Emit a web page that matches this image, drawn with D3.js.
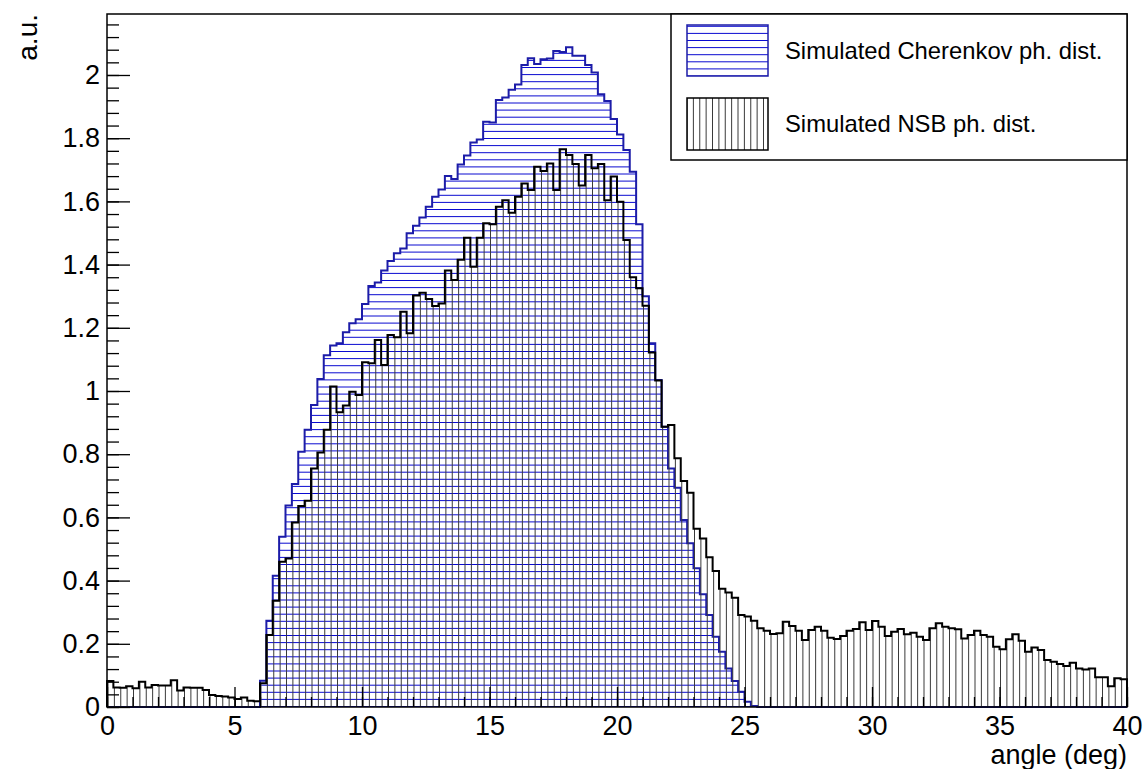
<!DOCTYPE html>
<html><head><meta charset="utf-8">
<script src="https://cdn.jsdelivr.net/npm/d3@7"></script>
<style>
body{margin:0;background:#fff}
svg{display:block}
text{font-family:"Liberation Sans",Arial,Helvetica,sans-serif;fill:#000}
</style>
</head><body>
<svg id="c" width="1146" height="769"></svg>
<script>
// ---- data ----
const xMin = 0, xMax = 40, binWidth = 0.25;
const yMax = 2.193;
const cherenkov = [
 0,0,0,0,0,0,0,0,0,0,
 0,0,0,0,0,0,0,0,0,0,
 0,0,0,0,0.083,0.273,0.415,0.539,0.638,0.706,
 0.808,0.877,0.956,1.038,1.113,1.144,1.151,1.186,1.214,1.227,
 1.275,1.332,1.343,1.381,1.411,1.436,1.451,1.499,1.523,1.549,
 1.583,1.615,1.638,1.680,1.671,1.717,1.745,1.786,1.796,1.852,
 1.850,1.921,1.929,1.953,1.970,2.032,2.053,2.035,2.050,2.052,
 2.076,2.073,2.088,2.061,2.061,2.032,2.008,1.939,1.918,1.861,
 1.812,1.763,1.694,1.528,1.300,1.151,1.035,0.887,0.755,0.694,
 0.592,0.518,0.439,0.357,0.291,0.222,0.175,0.122,0.082,0.048,
 0.017,0.003,0,0,0,0,0,0,0,0,
 0,0,0,0,0,0,0,0,0,0,
 0,0,0,0,0,0,0,0,0,0,
 0,0,0,0,0,0,0,0,0,0,
 0,0,0,0,0,0,0,0,0,0,
 0,0,0,0,0,0,0,0,0,0
];
const nsb = [
 0.082,0.062,0.061,0.066,0.059,0.080,0.062,0.070,0.068,0.068,
 0.085,0.052,0.062,0.061,0.061,0.054,0.038,0.035,0.033,0.030,
 0.025,0.030,0.020,0.018,0.075,0.228,0.336,0.460,0.470,0.584,
 0.636,0.653,0.755,0.805,0.877,1.014,0.933,0.954,0.998,0.987,
 1.091,1.088,1.161,1.082,1.177,1.170,1.251,1.183,1.302,1.311,
 1.291,1.269,1.277,1.381,1.351,1.415,1.485,1.393,1.485,1.531,
 1.528,1.583,1.604,1.564,1.615,1.657,1.636,1.710,1.696,1.720,
 1.636,1.765,1.747,1.718,1.650,1.747,1.705,1.718,1.604,1.679,
 1.599,1.478,1.360,1.325,1.270,1.122,1.033,0.887,0.892,0.787,
 0.715,0.678,0.564,0.533,0.474,0.430,0.374,0.362,0.346,0.291,
 0.286,0.273,0.249,0.241,0.231,0.233,0.270,0.256,0.241,0.212,
 0.244,0.254,0.241,0.219,0.215,0.225,0.241,0.247,0.268,0.244,
 0.272,0.254,0.225,0.238,0.247,0.230,0.235,0.222,0.212,0.249,
 0.265,0.254,0.249,0.246,0.217,0.228,0.241,0.228,0.222,0.191,
 0.183,0.214,0.230,0.210,0.175,0.188,0.180,0.149,0.143,0.136,
 0.130,0.140,0.122,0.119,0.122,0.094,0.094,0.066,0.091,0.088
];
const xMajorTicks = [0,5,10,15,20,25,30,35,40];
const xTickLabels = ["0","5","10","15","20","25","30","35","40"];
const yMajorTicks = [0,0.2,0.4,0.6,0.8,1,1.2,1.4,1.6,1.8,2];
const yTickLabels = ["0","0.2","0.4","0.6","0.8","1","1.2","1.4","1.6","1.8","2"];
const xTitle = "angle (deg)";
const yTitle = "a.u.";
const seriesNames = ["Simulated Cherenkov ph. dist.","Simulated NSB ph. dist."];

// ---- layout ----
const L = 107, R = 1127, T = 14, B = 707;
const svg = d3.select("#c");
const x = d3.scaleLinear([xMin, xMax], [L, R]);
const y = d3.scaleLinear([0, yMax], [B, T]);
const blueLine = "#1c1ca8", blueHatch = "#0a0ad0";

function stepPath(vals){
  let p = `M${x(xMin)},${y(0)}`;
  vals.forEach((v,i)=>{
    const lo = xMin + i*binWidth, hi = lo + binWidth;
    p += `L${x(lo)},${y(v)}L${x(hi)},${y(v)}`;
  });
  p += `L${x(xMax)},${y(0)}`;
  return p;
}

const defs = svg.append("defs");
defs.append("clipPath").attr("id","clipC").append("path").attr("d", stepPath(cherenkov)+"Z");
defs.append("clipPath").attr("id","clipN").append("path").attr("d", stepPath(nsb)+"Z");
defs.append("clipPath").attr("id","clipL1").append("rect").attr("x",687).attr("y",25).attr("width",81).attr("height",51);
defs.append("clipPath").attr("id","clipL2").append("rect").attr("x",687).attr("y",98).attr("width",81).attr("height",52);

const hSpacing = 7.1, vSpacing = 6.375;
function hHatch(g, y0, y1, x0, x1){
  for(let yy = y1; yy >= y0; yy -= hSpacing)
    g.append("line").attr("x1",x0).attr("x2",x1).attr("y1",yy).attr("y2",yy)
     .attr("stroke",blueHatch).attr("stroke-width",1);
}
function vHatch(g, x0, x1, y0, y1){
  for(let xx = x0; xx <= x1; xx += vSpacing)
    g.append("line").attr("x1",xx).attr("x2",xx).attr("y1",y0).attr("y2",y1)
     .attr("stroke","#3a3a3a").attr("stroke-width",1);
}

// Cherenkov
const gC = svg.append("g").attr("clip-path","url(#clipC)");
hHatch(gC, T, B - 0.5, L, R);
svg.append("path").attr("d", stepPath(cherenkov)).attr("fill","none")
  .attr("stroke",blueLine).attr("stroke-width",2);

// NSB
const gN = svg.append("g").attr("clip-path","url(#clipN)");
vHatch(gN, L + 1, R, T, B);
svg.append("path").attr("d", stepPath(nsb)).attr("fill","none")
  .attr("stroke","#000").attr("stroke-width",2);

// axes
const xAxisMinor = d3.axisBottom(x).tickValues(d3.range(0,41,1)).tickSize(-10).tickSizeOuter(0).tickFormat("");
svg.append("g").attr("transform",`translate(0,${B})`).call(xAxisMinor);
const xAxis = d3.axisBottom(x).tickValues(xMajorTicks).tickSize(-20).tickSizeOuter(0)
  .tickPadding(9).tickFormat((d,i)=>xTickLabels[i]);
const gx = svg.append("g").attr("transform",`translate(0,${B})`).call(xAxis);
gx.selectAll("text").style("font-size","27px");

const yMinorVals = d3.range(0, 55).map(i=>i*0.04).filter(v=>v<=yMax);
const yAxisMinor = d3.axisLeft(y).tickValues(yMinorVals).tickSize(-12).tickSizeOuter(0).tickFormat("");
svg.append("g").attr("transform",`translate(${L},0)`).call(yAxisMinor);
const yAxis = d3.axisLeft(y).tickValues(yMajorTicks).tickSize(-23).tickSizeOuter(0)
  .tickPadding(7).tickFormat((d,i)=>yTickLabels[i]);
const gy = svg.append("g").attr("transform",`translate(${L},0)`).call(yAxis);
gy.selectAll("text").style("font-size","27px");
svg.selectAll(".tick line").attr("stroke","#000").attr("stroke-width",1.3);
svg.selectAll(".domain").remove();

// frame
svg.append("rect").attr("x",L).attr("y",T).attr("width",R-L).attr("height",B-T)
  .attr("fill","none").attr("stroke","#000").attr("stroke-width",1.5);

// titles
svg.append("text").attr("x",R).attr("y",764).attr("text-anchor","end")
  .style("font-size","27px").text(xTitle);
svg.append("text").attr("transform",`translate(37,${T}) rotate(-90)`).attr("text-anchor","end")
  .style("font-size","28px").text(yTitle);

// legend
svg.append("rect").attr("x",671).attr("y",T).attr("width",R-671).attr("height",146)
  .attr("fill","#fff").attr("stroke","#000").attr("stroke-width",1.5);
const l1 = svg.append("g").attr("clip-path","url(#clipL1)");
hHatch(l1, 25, 76, 687, 768);
svg.append("rect").attr("x",687).attr("y",25).attr("width",81).attr("height",51)
  .attr("fill","none").attr("stroke",blueLine).attr("stroke-width",1.5);
const l2 = svg.append("g").attr("clip-path","url(#clipL2)");
vHatch(l2, 687, 768, 98, 150);
svg.append("rect").attr("x",687).attr("y",98).attr("width",81).attr("height",52)
  .attr("fill","none").attr("stroke","#000").attr("stroke-width",1.5);
svg.append("text").attr("x",785).attr("y",59).style("font-size","23.8px").text(seriesNames[0]);
svg.append("text").attr("x",785).attr("y",132).style("font-size","23.8px").text(seriesNames[1]);
</script>
</body></html>
